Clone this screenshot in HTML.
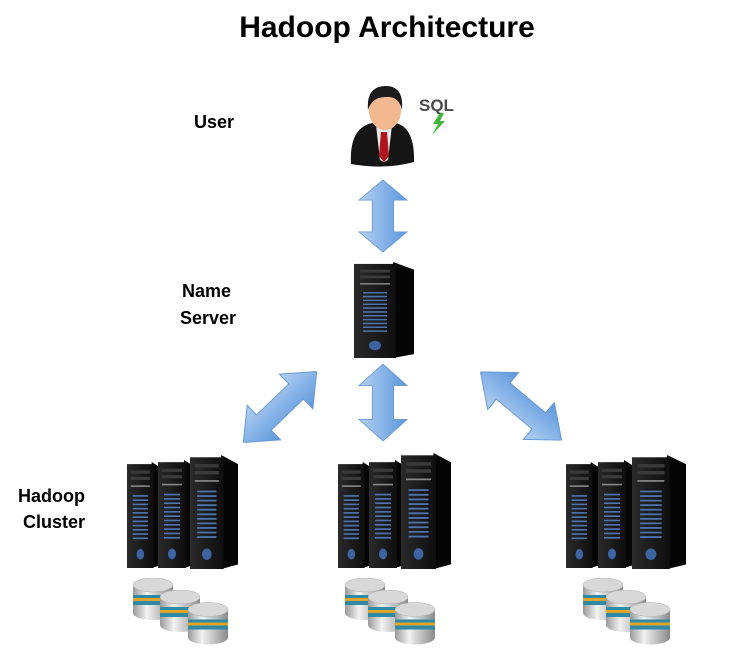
<!DOCTYPE html>
<html><head><meta charset="utf-8"><style>
html,body{margin:0;padding:0;background:#fff;}
svg{display:block}
text{font-family:"Liberation Sans",sans-serif;font-weight:bold;fill:#000}
</style></head><body>
<svg width="743" height="658" viewBox="0 0 743 658" xmlns="http://www.w3.org/2000/svg">
<defs>
<linearGradient id="ar" x1="0" y1="0" x2="1" y2="0">
<stop offset="0" stop-color="#b3d0f2"/><stop offset="1" stop-color="#5c97dc"/></linearGradient>
<linearGradient id="fr" x1="0" y1="0" x2="1" y2="0">
<stop offset="0" stop-color="#2a2a2a"/><stop offset="1" stop-color="#0e0e0e"/></linearGradient>
<linearGradient id="sv" x1="0" y1="0" x2="1" y2="0">
<stop offset="0" stop-color="#9a9a9a"/><stop offset=".35" stop-color="#f2f2f2"/><stop offset="1" stop-color="#8a8a8a"/></linearGradient>
<symbol id="srv" viewBox="0 0 40 100" preserveAspectRatio="none">
<polygon points="26,0 40,8 40,96 26,100" fill="#050505"/>
<rect x="0" y="2" width="28" height="98" fill="url(#fr)"/>
<rect x="4" y="8" width="20" height="3" fill="#3a3a3a"/>
<rect x="4" y="14" width="20" height="3" fill="#3a3a3a"/>
<rect x="4" y="22" width="20" height="1.5" fill="#888"/>
<g stroke="#4d72ad" stroke-width="1.6">
<line x1="6" y1="32" x2="22" y2="32"/><line x1="6" y1="36" x2="22" y2="36"/><line x1="6" y1="40" x2="22" y2="40"/><line x1="6" y1="44" x2="22" y2="44"/><line x1="6" y1="48" x2="22" y2="48"/><line x1="6" y1="52" x2="22" y2="52"/><line x1="6" y1="56" x2="22" y2="56"/><line x1="6" y1="60" x2="22" y2="60"/><line x1="6" y1="64" x2="22" y2="64"/><line x1="6" y1="68" x2="22" y2="68"/><line x1="6" y1="72" x2="22" y2="72"/></g>
<ellipse cx="14" cy="87" rx="4" ry="5" fill="#3d64a0"/>
</symbol>
<symbol id="db" viewBox="0 0 40 42">
<rect x="0" y="7" width="40" height="28" fill="url(#sv)"/>
<ellipse cx="20" cy="35" rx="20" ry="7" fill="url(#sv)"/>
<rect x="0" y="17" width="40" height="3" fill="#2f8aa6"/>
<rect x="0" y="20" width="40" height="3" fill="#e0a426"/>
<rect x="0" y="23" width="40" height="4" fill="#2f8aa6"/>
<ellipse cx="20" cy="7" rx="20" ry="7" fill="#d8d8d8" stroke="#aaa" stroke-width=".5"/>
</symbol>
<symbol id="arr" viewBox="-26 -50 52 100" preserveAspectRatio="none">
<polygon points="0,-50 25,-22 11,-22 11,22 25,22 0,50 -25,22 -11,22 -11,-22 -25,-22" fill="url(#ar)" stroke="#6b9ad3" stroke-width="1"/>
</symbol>
</defs>

<text x="387" y="37" font-size="30" text-anchor="middle">Hadoop Architecture</text>
<text x="194" y="128" font-size="18">User</text>
<text x="182" y="297" font-size="18">Name</text>
<text x="180" y="324" font-size="18">Server</text>
<text x="18" y="502" font-size="18">Hadoop</text>
<text x="23" y="528" font-size="18">Cluster</text>

<!-- user -->
<path d="M351,164 Q349,128 372,123 L396,123 Q415,128 414,162 Q384,170 351,164Z" fill="#151515"/>
<polygon points="376,125 392,125 388,160 384,162 380,160" fill="#e8e8e8"/>
<polygon points="381,132 387,132 389,156 384,162 379,156" fill="#b0141c"/>
<ellipse cx="385" cy="111" rx="16" ry="19" fill="#f2b88f"/>
<path d="M368,110 Q366,86 386,86 Q404,86 402,110 Q399,96 386,97 Q372,97 368,110Z" fill="#1a1a1a"/>
<text x="419" y="111" font-size="17" style="fill:#4a4a4a">SQL</text>
<polygon points="440,113 433,124 438,124 432,135 445,121 440,121 444,113" fill="#3fb53a"/>

<!-- arrows -->
<use href="#arr" x="358" y="180" width="50" height="72"/>
<use href="#arr" x="358" y="364" width="50" height="77"/>
<g transform="translate(280,407) rotate(46)"><use href="#arr" x="-25" y="-51" width="50" height="102"/></g>
<g transform="translate(521,406) rotate(-50)"><use href="#arr" x="-25" y="-53" width="50" height="106"/></g>

<!-- name server -->
<use href="#srv" x="354" y="262" width="60" height="96"/>

<!-- cluster 1 -->
<use href="#srv" x="127" y="462" width="38" height="106"/>
<use href="#srv" x="158" y="460" width="40" height="108"/>
<use href="#srv" x="190" y="455" width="48" height="114"/>
<use href="#db" x="133" y="578" width="40" height="42"/>
<use href="#db" x="160" y="590" width="40" height="42"/>
<use href="#db" x="188" y="602" width="40" height="43"/>

<!-- cluster 2 -->
<use href="#srv" x="338" y="462" width="38" height="106"/>
<use href="#srv" x="369" y="460" width="40" height="108"/>
<use href="#srv" x="401" y="453" width="50" height="116"/>
<use href="#db" x="345" y="578" width="40" height="42"/>
<use href="#db" x="368" y="590" width="40" height="42"/>
<use href="#db" x="395" y="602" width="40" height="43"/>

<!-- cluster 3 -->
<use href="#srv" x="566" y="462" width="38" height="106"/>
<use href="#srv" x="598" y="460" width="40" height="108"/>
<use href="#srv" x="632" y="455" width="54" height="114"/>
<use href="#db" x="583" y="578" width="40" height="42"/>
<use href="#db" x="606" y="590" width="40" height="42"/>
<use href="#db" x="630" y="602" width="40" height="43"/>
</svg>
</body></html>
